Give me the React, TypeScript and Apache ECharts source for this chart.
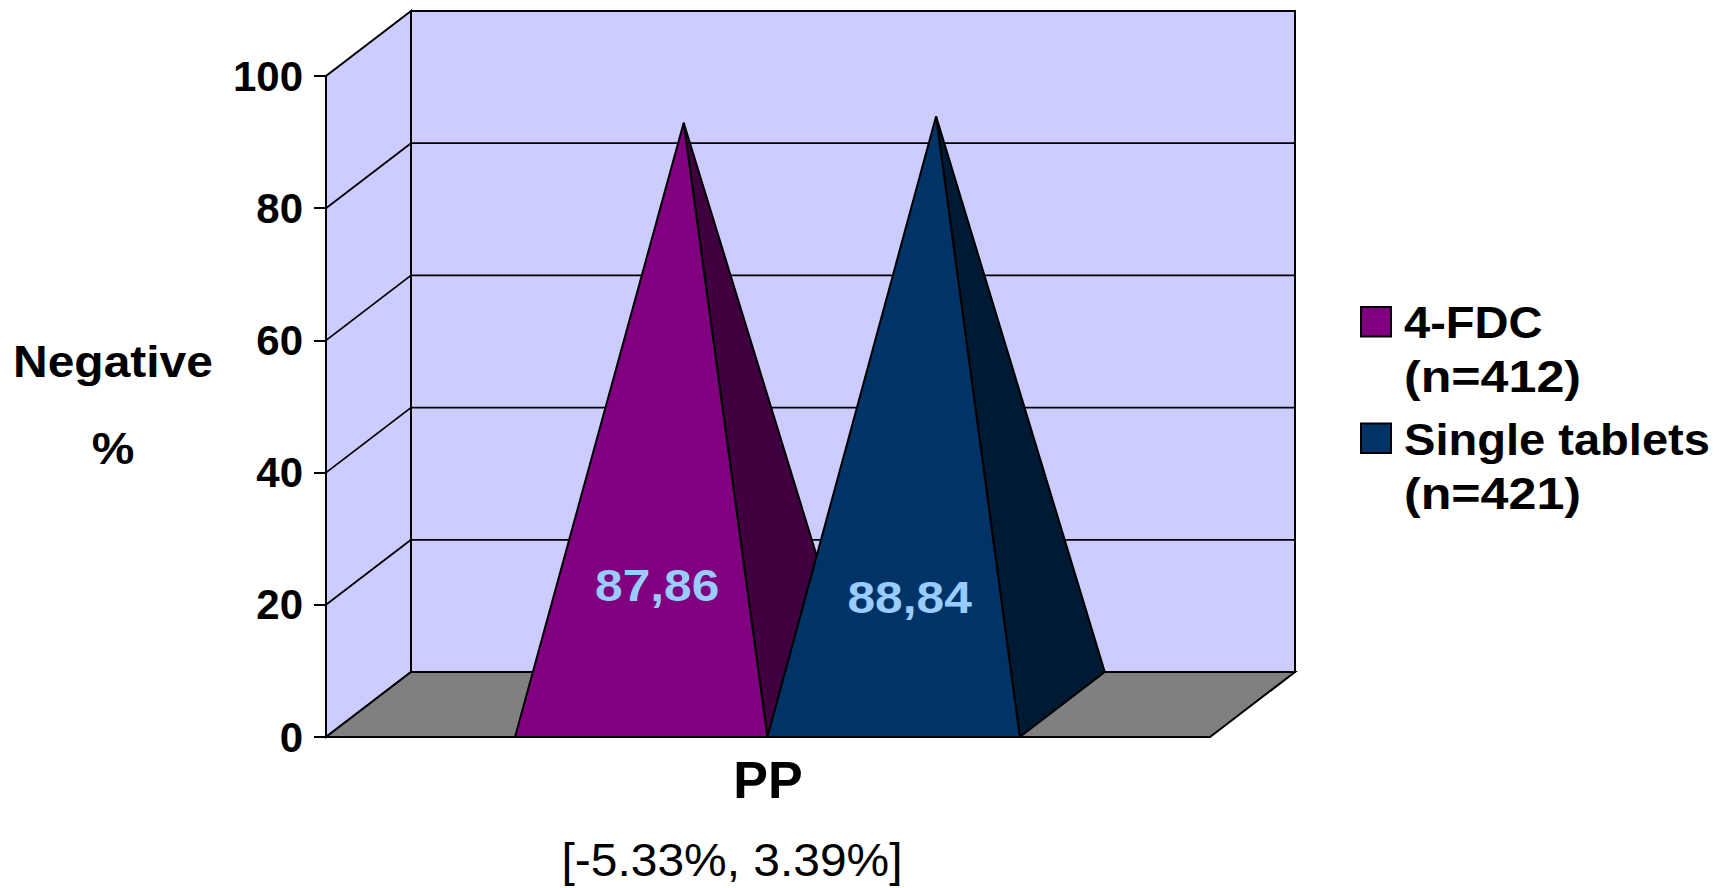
import React, { useEffect, useRef } from "react";
import * as echarts from "echarts";

// Data
const categories = ["PP"];
const seriesNames = ["4-FDC\n(n=412)", "Single tablets\n(n=421)"];
const valueLabels = ["87,86", "88,84"];
const negativeValues = [87.86, 88.84];
const yTicks = [0, 20, 40, 60, 80, 100];
const yTitleLines = ["Negative", "%"];
const intervalLabel = "[-5.33%, 3.39%]";

// Look of the box and the pyramids
const FONT = "Liberation Sans";
const INK = "#000000";
const WALL = "#CCCCFF";
const FLOOR = "#808080";
const FRONT_FILL = ["#800080", "#003366"];
const SIDE_FILL = ["#400040", "#001A33"];
const LABEL_COLOR = "#99CCFF";
const DEPTH_X = 85;
const DEPTH_Y = 65;
const BAR_SHARE = 252.4 / 884;
// Heights, in axis units, at which the value labels sit on each pyramid
const LABEL_HEIGHT = [22.8, 21];
const LABEL_SHIFT_X = 16;

const GRID = { left: 326, top: 76, width: 884, height: 661, outerBoundsMode: "none" };

function renderBox(_params: any, api: any) {
  const [x0, y0] = api.coord([0, 0]);
  const band = api.size([1, 0])[0];
  const left = x0 - band / 2;
  const right = x0 + band / 2;
  const top = api.coord([0, 100])[1];
  const line = (x1: number, y1: number, x2: number, y2: number) => ({
    type: "line",
    shape: { x1, y1, x2, y2 },
    style: { stroke: INK, lineWidth: 1.8 },
  });
  const poly = (points: number[][], fill: string) => ({
    type: "polygon",
    shape: { points },
    style: { fill, stroke: INK, lineWidth: 2, lineJoin: "miter" },
  });
  const children: any[] = [
    poly([[left, y0], [left, top], [left + DEPTH_X, top - DEPTH_Y], [left + DEPTH_X, y0 - DEPTH_Y]], WALL),
    poly([[left + DEPTH_X, y0 - DEPTH_Y], [left + DEPTH_X, top - DEPTH_Y], [right + DEPTH_X, top - DEPTH_Y], [right + DEPTH_X, y0 - DEPTH_Y]], WALL),
    poly([[left, y0], [right, y0], [right + DEPTH_X, y0 - DEPTH_Y], [left + DEPTH_X, y0 - DEPTH_Y]], FLOOR),
  ];
  yTicks.slice(1, -1).forEach((t) => {
    const y = api.coord([0, t])[1];
    children.push(line(left, y, left + DEPTH_X, y - DEPTH_Y));
    children.push(line(left + DEPTH_X, y - DEPTH_Y, right + DEPTH_X, y - DEPTH_Y));
  });
  return { type: "group", children };
}

function pyramidRenderer(index: number) {
  return (_params: any, api: any) => {
    const value = api.value(1);
    const [cx, y0] = api.coord([0, 0]);
    const w = api.size([1, 0])[0] * BAR_SHARE;
    const xa = cx + (index - 1) * w - 0.6;
    const xb = xa + w;
    const apexX = (xa + xb) / 2 + DEPTH_X / 2;
    const apexY = api.coord([0, value])[1] - DEPTH_Y / 2 - 1;
    const edge = { stroke: INK, lineWidth: 2, lineJoin: "bevel" };
    return {
      type: "group",
      children: [
        {
          type: "polygon",
          shape: { points: [[xb, y0], [xb + DEPTH_X, y0 - DEPTH_Y], [apexX, apexY]] },
          style: { fill: SIDE_FILL[index], ...edge },
        },
        {
          type: "polygon",
          shape: { points: [[xa, y0], [xb, y0], [apexX, apexY]] },
          style: { fill: FRONT_FILL[index], ...edge },
        },
        {
          type: "text",
          x: (xa + xb) / 2 + LABEL_SHIFT_X,
          y: api.coord([0, LABEL_HEIGHT[index]])[1],
          scaleX: 1.13,
          style: {
            text: valueLabels[index],
            fill: LABEL_COLOR,
            fontFamily: FONT,
            fontWeight: "bold",
            fontSize: 44,
            align: "center",
            verticalAlign: "middle",
          },
        },
      ],
    };
  };
}

function boldText(text: string, x: number, y: number, fontSize: number, scaleX: number, align: string) {
  return {
    type: "text",
    x,
    y,
    scaleX,
    style: { text, fill: INK, fontFamily: FONT, fontWeight: "bold", fontSize, align, verticalAlign: "middle" },
  };
}

function legendGraphics() {
  const swatchTops = [307, 423.5];
  const lineCentres = [[323, 377], [440, 494]];
  const out: any[] = [];
  seriesNames.forEach((name, i) => {
    out.push({
      type: "rect",
      shape: { x: 1361, y: swatchTops[i], width: 30, height: 29.5 },
      style: { fill: FRONT_FILL[i], stroke: INK, lineWidth: 2 },
    });
    name.split("\n").forEach((part, j) => {
      const letterWide = part.startsWith("(") ? 1.14 : 1.07;
      out.push(boldText(part, 1404, lineCentres[i][j], 44, letterWide, "left"));
    });
  });
  return out;
}

export default function App() {
  const ref = useRef<HTMLDivElement>(null);

  useEffect(() => {
    const chart = echarts.init(ref.current!, null, { renderer: "svg" });
    chart.setOption({
      animation: false,
      backgroundColor: "#FFFFFF",
      grid: GRID,
      xAxis: {
        type: "category",
        data: categories,
        z: 10,
        axisLine: { show: true, lineStyle: { color: INK, width: 2 } },
        axisTick: { show: false },
        axisLabel: {
          margin: 17,
          color: INK,
          fontFamily: FONT,
          fontWeight: "bold",
          fontSize: 52,
        },
      },
      yAxis: {
        type: "value",
        min: 0,
        max: 100,
        interval: 20,
        z: 10,
        splitLine: { show: false },
        axisLine: { show: true, lineStyle: { color: INK, width: 2 } },
        axisTick: { show: true, inside: false, length: 12, lineStyle: { color: INK, width: 2 } },
        axisLabel: {
          margin: 23,
          color: INK,
          fontFamily: FONT,
          fontWeight: "bold",
          fontSize: 42,
        },
      },
      series: [
        { type: "custom", name: "box", silent: true, clip: false, z: 1, renderItem: renderBox, data: [[0, 100]] },
        ...negativeValues.map((v, i) => ({
          type: "custom",
          name: seriesNames[i],
          clip: false,
          z: 2 + i,
          renderItem: pyramidRenderer(i),
          data: [[0, v]],
        })),
      ],
      graphic: [
        boldText(yTitleLines[0], 113, 362, 44, 1.09, "center"),
        boldText(yTitleLines[1], 113, 449, 44, 1.09, "center"),
        {
          type: "text",
          x: 732,
          y: 860,
          scaleX: 1.02,
          style: {
            text: intervalLabel,
            fill: INK,
            fontFamily: FONT,
            fontSize: 47,
            lineHeight: 44,
            align: "center",
            verticalAlign: "middle",
          },
        },
        ...legendGraphics(),
      ],
    });
    return () => chart.dispose();
  }, []);

  return <div ref={ref} style={{ position: "absolute", left: 0, top: 0, width: 1719, height: 888 }} />;
}
